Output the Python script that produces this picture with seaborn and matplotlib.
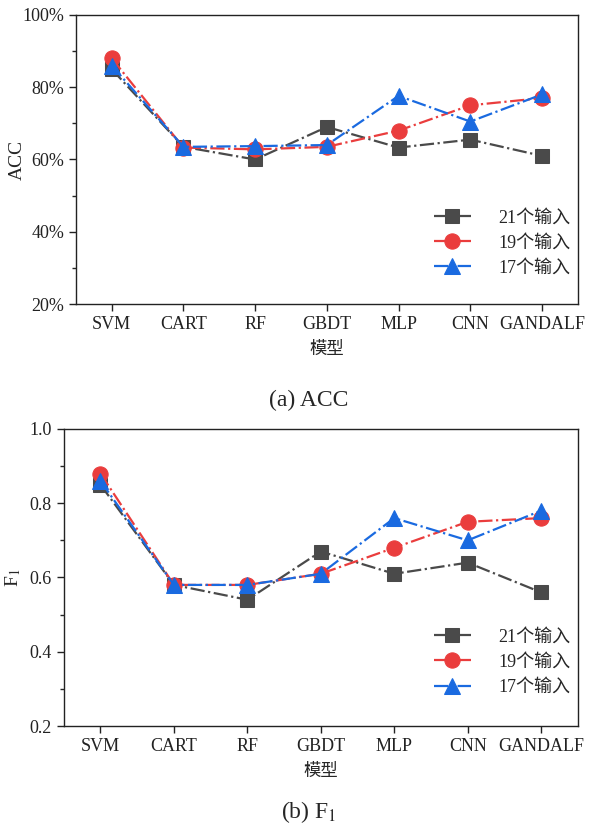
import matplotlib
matplotlib.use("Agg")
import matplotlib.pyplot as plt
import seaborn as sns
import pandas as pd
from matplotlib.ticker import MultipleLocator, FuncFormatter

models = ["SVM", "CART", "RF", "GBDT", "MLP", "CNN", "GANDALF"]
series_names = ["21个输入", "19个输入", "17个输入"]
acc_21 = [85, 63.5, 60, 69, 63.3, 65.5, 61]
acc_19 = [88, 63.3, 62.8, 63.5, 68, 75, 77]
acc_17 = [86, 63.5, 63.7, 64, 77.6, 70.5, 78]
f1_21 = [0.85, 0.58, 0.54, 0.67, 0.61, 0.64, 0.56]
f1_19 = [0.88, 0.58, 0.58, 0.61, 0.68, 0.75, 0.76]
f1_17 = [0.86, 0.58, 0.58, 0.61, 0.76, 0.70, 0.78]

colors = ["#4a4a4a", "#ea3d3d", "#1a6ae0"]
markers = ["s", "o", "^"]
msizes = [10, 11, 11.5]

sns.set_style("ticks")
plt.rcParams["font.family"] = ["Liberation Serif", "Noto Sans CJK SC"]
plt.rcParams["mathtext.fontset"] = "stix"
plt.rcParams["axes.linewidth"] = 1.0

fig = plt.figure(figsize=(6.07, 8.32), dpi=100)
ax1 = fig.add_axes([0.125, 0.6346, 0.827, 0.3474])
ax2 = fig.add_axes([0.105, 0.1274, 0.847, 0.3570])

def draw(ax, vals_list, leg_y):
    x = list(range(len(models)))
    for vals, name, c, m, ms in zip(vals_list, series_names, colors, markers, msizes):
        df = pd.DataFrame({"x": x, "y": vals})
        sns.lineplot(data=df, x="x", y="y", ax=ax, color=c, marker=m,
                     markersize=ms, markeredgecolor=c, linestyle="-.",
                     linewidth=1.6, label=name)
    ax.set_xlim(-0.5, 6.5)
    ax.set_xticks(x)
    ax.set_xticklabels(models, fontsize=13)
    ax.set_xlabel("模型", fontsize=12.5, family=["Noto Sans CJK SC"], labelpad=5)
    ax.tick_params(axis="both", direction="out", length=5, width=1, labelsize=13,
                   colors="#222222")
    ax.tick_params(axis="y", which="minor", direction="out", length=3, width=1)
    for s in ax.spines.values():
        s.set_visible(True)
        s.set_color("#222222")
    leg = ax.legend(loc="lower right", bbox_to_anchor=(1.0, leg_y), frameon=False,
                    fontsize=13, handlelength=2.1, handletextpad=1.5,
                    labelspacing=0.45, borderaxespad=0.0)
    for h in leg.legend_handles:
        h.set_linestyle("-.")

draw(ax1, [acc_21, acc_19, acc_17], 0.07)
ax1.set_ylim(20, 100)
ax1.yaxis.set_major_locator(MultipleLocator(20))
ax1.yaxis.set_minor_locator(MultipleLocator(10))
ax1.yaxis.set_major_formatter(FuncFormatter(lambda v, p: f"{int(round(v))}%"))
ax1.set_ylabel("ACC", fontsize=14)
ax1.yaxis.set_label_coords(-0.1, 0.5)

draw(ax2, [f1_21, f1_19, f1_17], 0.077)
ax2.set_ylim(0.2, 1.0)
ax2.yaxis.set_major_locator(MultipleLocator(0.2))
ax2.yaxis.set_minor_locator(MultipleLocator(0.1))
ax2.yaxis.set_major_formatter(FuncFormatter(lambda v, p: f"{v:.1f}"))
ax2.set_ylabel("F$_1$", fontsize=14)
ax2.yaxis.set_label_coords(-0.08, 0.5)

fig.text(0.508, 1 - 400 / 832, "(a) ACC", ha="center", va="center", fontsize=17)
fig.text(0.508, 1 - 812 / 832, "(b) F$_1$", ha="center", va="center", fontsize=17)

fig.savefig("out.png", dpi=100)
